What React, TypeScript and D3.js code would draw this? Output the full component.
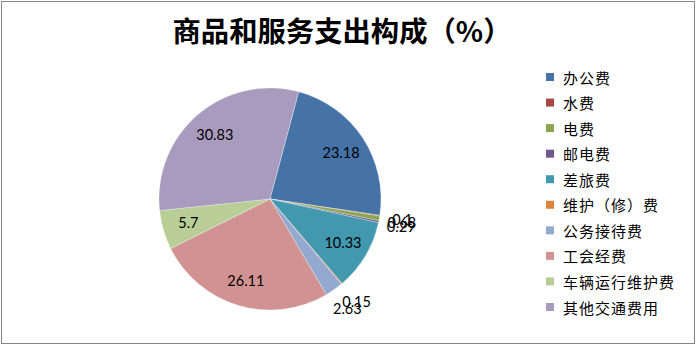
import React from "react";
import * as d3 from "d3";

const categories = ["办公费", "水费", "电费", "邮电费", "差旅费", "维护（修）费", "公务接待费", "工会经费", "车辆运行维护费", "其他交通费用"];
const values = [23.18, 0.1, 0.68, 0.29, 10.33, 0.15, 2.63, 26.11, 5.7, 30.83];
const labelTexts = ["23.18", "0.1", "0.68", "0.29", "10.33", "0.15", "2.63", "26.11", "5.7", "30.83"];
const outsideLabel = [false, true, true, true, false, true, true, false, false, false];
const colors = ["#4572A7", "#AA4643", "#89A54E", "#71588F", "#4198AF", "#DB843D", "#93A9CF", "#D19392", "#B9CD96", "#A99BBD"];
const title = "商品和服务支出构成（%）";

const W = 696, H = 345;
const cx = 270, cy = 199, R = 111;

export default function App() {
  const startAngle = (15 * Math.PI) / 180;
  const pie = d3.pie<number>().sort(null).value((d) => d).startAngle(startAngle).endAngle(startAngle + 2 * Math.PI);
  const arcs = pie(values);
  const arc = d3.arc<d3.PieArcDatum<number>>().innerRadius(0).outerRadius(R);
  const inArc = d3.arc<d3.PieArcDatum<number>>().innerRadius(85).outerRadius(85);
  const outArc = d3.arc<d3.PieArcDatum<number>>().innerRadius(134).outerRadius(134);
  const legendY = d3.scaleLinear().domain([0, categories.length - 1]).range([77, 307]);

  return (
    <svg width={W} height={H} style={{ position: "absolute", left: 0, top: 0 }}>
      <rect x={0} y={0} width={W} height={H} fill="#fff" />
      <rect x={1.5} y={1.5} width={693} height={342} fill="none" stroke="#868686" strokeWidth={1} />
      <text x={342} y={30} textAnchor="middle" dominantBaseline="central" fontFamily="'Noto Sans CJK SC'" fontWeight="bold" fontSize={28} textLength={339} lengthAdjust="spacingAndGlyphs" fill="#000">{title}</text>
      <g transform={`translate(${cx},${cy})`}>
        {arcs.map((a, i) => (
          <path key={i} d={arc(a) || ""} fill={colors[i]} stroke="#fff" strokeWidth={0.4} strokeOpacity={0.7} />
        ))}
        {arcs.map((a, i) => {
          const [x, y] = (outsideLabel[i] ? outArc : inArc).centroid(a);
          return (
            <text key={"l" + i} x={x} y={y} textAnchor="middle" dominantBaseline="central" fontFamily="Lato, 'Noto Sans'" fontSize={14.5} fill="#000">{labelTexts[i]}</text>
          );
        })}
      </g>
      {categories.map((c, i) => (
        <g key={"g" + i} transform={`translate(546,${legendY(i)})`}>
          <rect x={0} y={-4} width={8} height={8} fill={colors[i]} />
          <text x={17} y={0} dominantBaseline="central" fontFamily="'Noto Sans CJK SC'" fontSize={15} letterSpacing={1} fill="#000">{c}</text>
        </g>
      ))}
    </svg>
  );
}
